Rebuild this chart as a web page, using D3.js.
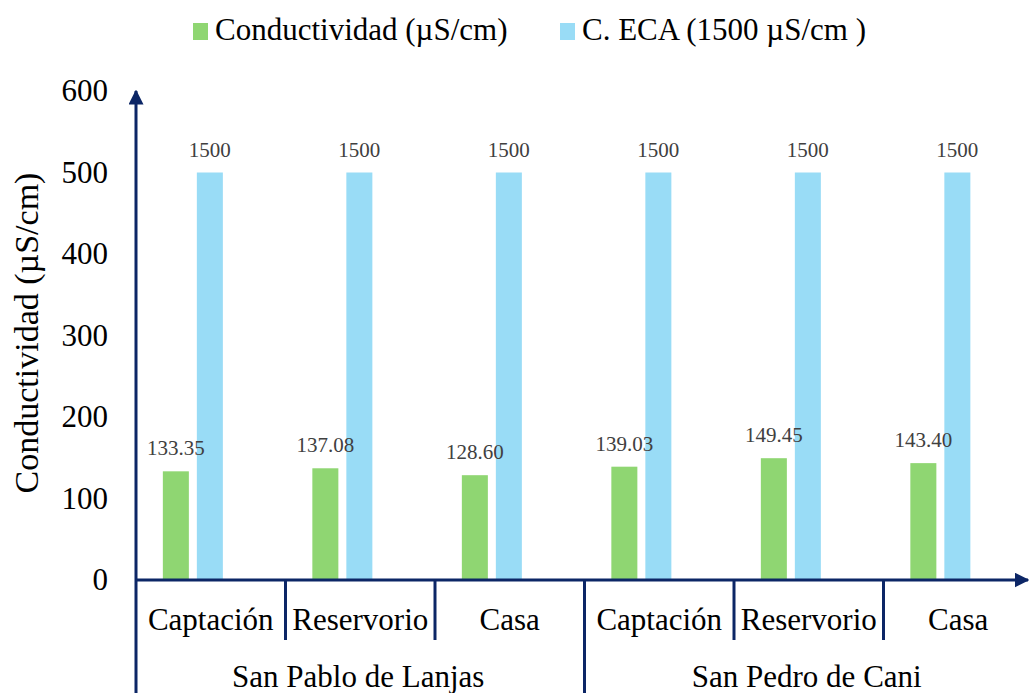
<!DOCTYPE html>
<html>
<head>
<meta charset="utf-8">
<script src="https://cdn.jsdelivr.net/npm/d3@7"></script>
<style>
  html, body { margin: 0; padding: 0; background: #fff; }
  svg { display: block; }
  .serif { font-family: "Liberation Serif", "DejaVu Serif", serif; }
</style>
</head>
<body>
<svg id="chart" width="1029" height="693"></svg>
<script>
// Sampling points, grouped by community
const points = ["Captación", "Reservorio", "Casa", "Captación", "Reservorio", "Casa"];
const groups = ["San Pablo de Lanjas", "San Pedro de Cani"];
const pointsPerGroup = 3;

// Measured conductivity (µS/cm)
const conductivity = [133.35, 137.08, 128.60, 139.03, 149.45, 143.40];
// ECA standard limit (µS/cm)
const ecaLimit = [1500, 1500, 1500, 1500, 1500, 1500];
// The limit lies beyond the axis, so its bars are cut at this height
const ecaCut = 500;

const yTicks = [0, 100, 200, 300, 400, 500, 600];
const seriesNames = ["Conductividad (µS/cm)", "C. ECA (1500 µS/cm )"];
const seriesKeys = ["cond", "eca"];
const colors = { cond: "#8fd672", eca: "#99dcf6" };
const axisColor = "#0c2666";

const svg = d3.select("#chart");
const W = 1029, H = 693;
const x0 = 136, x1 = 1033;
const yBase = 580, yTop = 91;
const fontSize = 31;

const x = d3.scaleBand().domain(d3.range(points.length)).range([x0, x1]).padding(0);
const xs = d3.scaleBand().domain(seriesKeys).range([0, x.bandwidth()])
  .paddingInner(0.235).paddingOuter(1.316).align(0.3);
const y = d3.scaleLinear().domain([0, 600]).range([yBase, yTop]);

// One record per bar
const bars = [];
points.forEach((p, i) => {
  seriesKeys.forEach(k => {
    const v = k === "cond" ? conductivity[i] : ecaLimit[i];
    bars.push({ i, key: k, value: v, shown: k === "eca" ? Math.min(v, ecaCut) : v });
  });
});

// Bars
svg.append("g").selectAll("rect").data(bars).join("rect")
  .attr("x", d => x(d.i) + xs(d.key))
  .attr("width", xs.bandwidth())
  .attr("y", d => y(d.shown))
  .attr("height", d => y(0) - y(d.shown))
  .attr("fill", d => colors[d.key]);

// Value labels, drawn above every bar
svg.append("g").selectAll("text").data(bars).join("text")
  .attr("class", "serif")
  .attr("x", d => x(d.i) + xs(d.key) + xs.bandwidth() / 2)
  .attr("y", d => y(d.shown) - 16)
  .attr("text-anchor", "middle")
  .attr("font-size", 21)
  .attr("fill", "#404040")
  .text(d => d.key === "eca" ? d3.format("d")(d.value) : d3.format(".2f")(d.value));

// Y axis tick labels
const yAxis = d3.axisLeft(y).tickValues(yTicks).tickSize(0).tickPadding(28);
const ya = svg.append("g").attr("transform", `translate(${x0},0)`).call(yAxis);
ya.select(".domain").remove();
ya.selectAll("text").attr("class", "serif").attr("font-size", fontSize).attr("fill", "#000");

// Axis lines with arrow heads
const defs = svg.append("defs");
defs.append("marker").attr("id", "arrow")
  .attr("viewBox", "0 0 10 10").attr("refX", 9).attr("refY", 5)
  .attr("markerWidth", 5).attr("markerHeight", 5).attr("orient", "auto")
  .append("path").attr("d", "M0,0 L10,5 L0,10 z").attr("fill", axisColor);

svg.append("line").attr("x1", x0).attr("x2", x0).attr("y1", H).attr("y2", yTop)
  .attr("stroke", axisColor).attr("stroke-width", 3).attr("marker-end", "url(#arrow)");
svg.append("line").attr("x1", x0).attr("x2", 1028).attr("y1", yBase).attr("y2", yBase)
  .attr("stroke", axisColor).attr("stroke-width", 3).attr("marker-end", "url(#arrow)");

// Category separators and labels
points.forEach((p, i) => {
  if (i > 0) {
    const isGroupEdge = i % pointsPerGroup === 0;
    svg.append("line").attr("x1", x(i)).attr("x2", x(i))
      .attr("y1", yBase).attr("y2", isGroupEdge ? H : 640)
      .attr("stroke", axisColor).attr("stroke-width", 3);
  }
  svg.append("text").attr("class", "serif")
    .attr("x", x(i) + x.bandwidth() / 2).attr("y", 630)
    .attr("text-anchor", "middle")
    .attr("font-size", fontSize).attr("fill", "#000")
    .text(p);
});
groups.forEach((gname, j) => {
  const a = x(j * pointsPerGroup), b = x((j + 1) * pointsPerGroup - 1) + x.bandwidth();
  svg.append("text").attr("class", "serif")
    .attr("x", (a + b) / 2 - 2).attr("y", 687)
    .attr("text-anchor", "middle")
    .attr("font-size", fontSize).attr("fill", "#000")
    .text(gname);
});

// Y axis title
svg.append("text").attr("class", "serif")
  .attr("transform", `translate(38,333) rotate(-90)`)
  .attr("text-anchor", "middle")
  .attr("font-size", 34).attr("fill", "#000")
  .text("Conductividad (µS/cm)");

// Legend
const legendX = [193, 560];
const legendTextX = [215, 582];
seriesKeys.forEach((k, i) => {
  svg.append("rect").attr("x", legendX[i]).attr("y", 23).attr("width", 15).attr("height", 17)
    .attr("fill", colors[k]);
  svg.append("text").attr("class", "serif")
    .attr("x", legendTextX[i]).attr("y", 40)
    .attr("font-size", fontSize).attr("fill", "#000")
    .text(seriesNames[i]);
});
</script>
</body>
</html>
